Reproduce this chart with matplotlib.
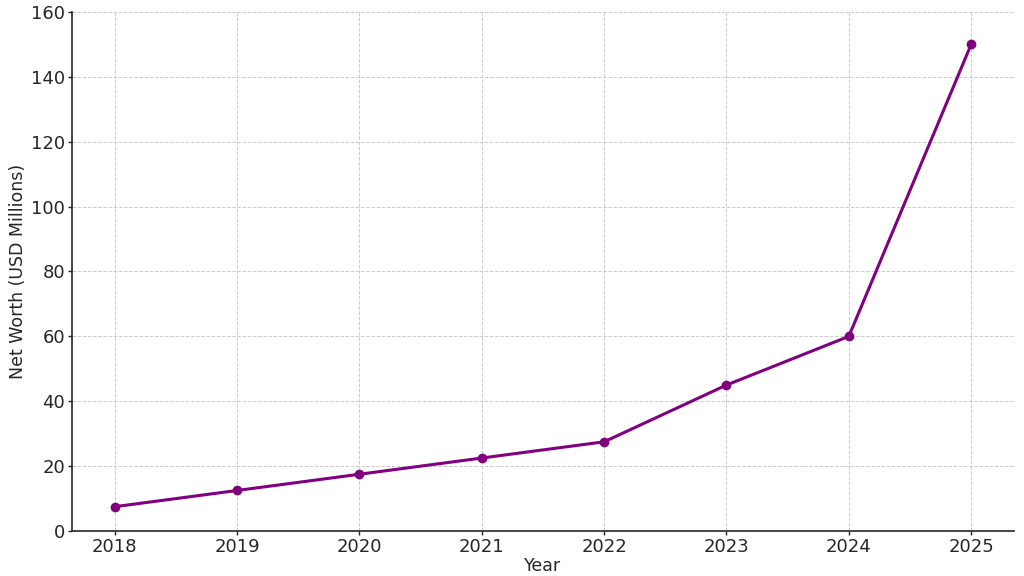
import matplotlib
matplotlib.use("Agg")
import matplotlib.pyplot as plt

years = [2018, 2019, 2020, 2021, 2022, 2023, 2024, 2025]
net_worth = [7.5, 12.5, 17.5, 22.5, 27.5, 45, 60, 150]

plt.rcParams['font.family'] = ['DejaVu Sans']
text_color = '#262626'

fig = plt.figure(figsize=(10.24, 5.76), dpi=100)
ax = fig.add_axes([0.0703, 0.0781, 0.9199, 0.9011])

ax.plot(years, net_worth, color='purple', linewidth=2.2, marker='o', markersize=6)

ax.set_ylim(0, 160)
ax.set_yticks(range(0, 161, 20))
ax.set_xticks(years)
ax.set_xticklabels([str(y) for y in years])

ax.set_xlabel('Year', fontsize=12.5, color=text_color, labelpad=1)
ax.set_ylabel('Net Worth (USD Millions)', fontsize=12.5, color=text_color, labelpad=3)
ax.tick_params(axis='both', labelsize=13, colors=text_color, length=3, width=1, pad=2)

ax.grid(True, linestyle='--', color='#cccccc', linewidth=0.7)
ax.set_axisbelow(True)

for side in ['top', 'right']:
    ax.spines[side].set_visible(False)
for side in ['left', 'bottom']:
    ax.spines[side].set_color(text_color)
    ax.spines[side].set_linewidth(1.2)

fig.savefig('out.png', dpi=100)
